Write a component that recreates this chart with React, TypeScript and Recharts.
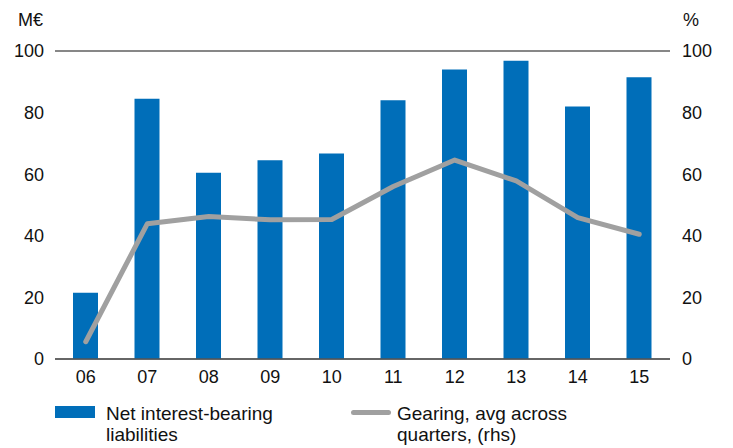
import { ComposedChart, Bar, Line, XAxis, YAxis, CartesianGrid, ReferenceLine } from "recharts";

const YEARS = ["06", "07", "08", "09", "10", "11", "12", "13", "14", "15"];
const LIABILITIES = [21.5, 84.5, 60.5, 64.5, 66.7, 84, 94, 96.8, 82, 91.5];
const GEARING = [5.6, 43.9, 46.3, 45.2, 45.3, 56, 64.6, 57.8, 45.9, 40.5];
const TICKS = [0, 20, 40, 60, 80, 100];

const BLUE = "#006EB9";
const GREY = "#A0A0A0";
const FONT = "'Liberation Sans', Arial, sans-serif";

const data = YEARS.map((y, i) => ({ year: y, liab: LIABILITIES[i], gear: GEARING[i] }));

const tick = { fontSize: 18, fill: "#111", fontFamily: FONT };

export default function App() {
  return (
    <div style={{ position: "absolute", left: 0, top: 0, width: 733, height: 448, background: "#fff", fontFamily: FONT }}>
      <div style={{ position: "absolute", left: 18, top: 10, fontSize: 18, color: "#111" }}>M€</div>
      <div style={{ position: "absolute", left: 683, top: 10, fontSize: 18, color: "#111" }}>%</div>
      <ComposedChart width={733} height={448} data={data} margin={{ top: 51, right: 0, bottom: 59, left: 0 }}>
        <CartesianGrid vertical={false} stroke="#3a3a3a" strokeWidth={1.2} />
        <XAxis dataKey="year" tick={tick} tickLine={false} axisLine={false} height={30} tickMargin={5} />
        <YAxis yAxisId="l" orientation="left" width={55} domain={[0, 100]} ticks={TICKS} tick={tick}
          tickLine={false} axisLine={false} tickMargin={5} />
        <YAxis yAxisId="r" orientation="right" width={63} domain={[0, 100]} ticks={TICKS} tick={tick}
          tickLine={false} axisLine={false} tickMargin={6} />
        <ReferenceLine yAxisId="l" y={100} stroke="#808080" strokeWidth={1.5} />
        <ReferenceLine yAxisId="l" y={0} stroke="#555" strokeWidth={1.5} />
        <Bar yAxisId="l" dataKey="liab" fill={BLUE} barSize={25} isAnimationActive={false} />
        <Line yAxisId="r" dataKey="gear" type="linear" stroke={GREY} strokeWidth={5} strokeLinecap="round"
          strokeLinejoin="round" dot={false} activeDot={false} isAnimationActive={false} />
      </ComposedChart>
      <div style={{ position: "absolute", left: 55, top: 406, width: 40, height: 12, background: BLUE }} />
      <div style={{ position: "absolute", left: 106, top: 403, fontSize: 19, lineHeight: "21px", color: "#111" }}>
        Net interest-bearing<br />liabilities
      </div>
      <div style={{ position: "absolute", left: 351, top: 410, width: 40, height: 5, borderRadius: 3, background: GREY }} />
      <div style={{ position: "absolute", left: 397, top: 403, fontSize: 19, lineHeight: "21px", color: "#111" }}>
        Gearing, avg across<br />quarters, (rhs)
      </div>
    </div>
  );
}
